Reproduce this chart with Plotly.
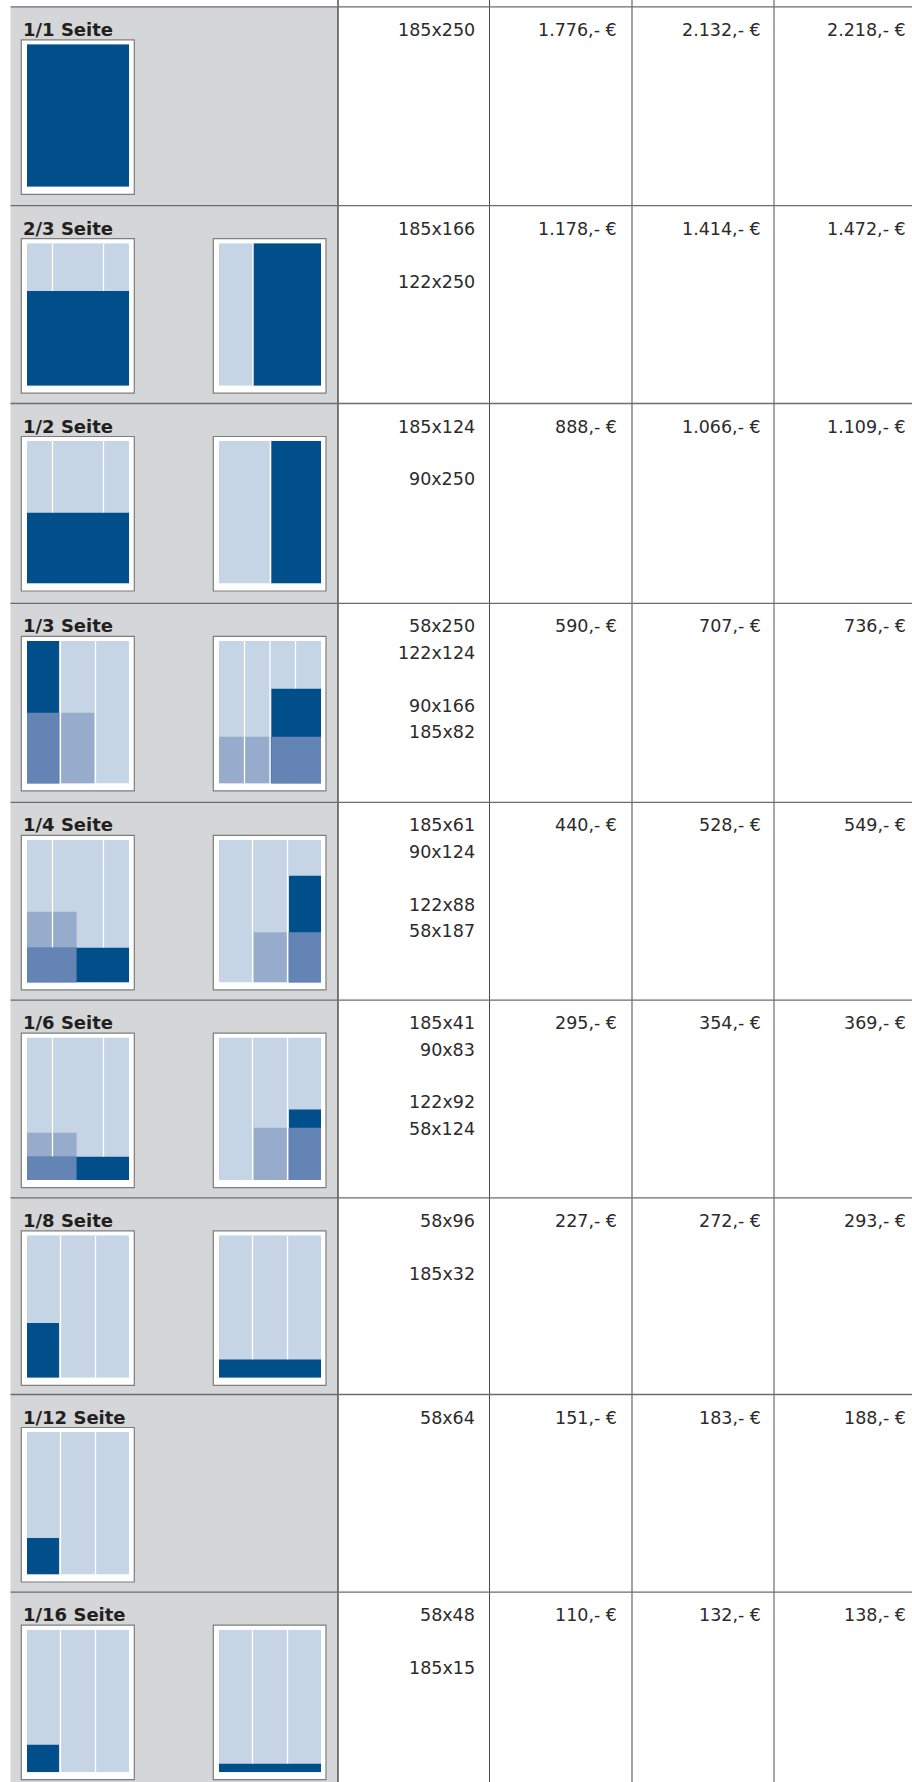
import plotly.graph_objects as go

W, H = 912, 1782

# ---------------- data ----------------
titles = ["1/1 Seite", "2/3 Seite", "1/2 Seite", "1/3 Seite", "1/4 Seite",
          "1/6 Seite", "1/8 Seite", "1/12 Seite", "1/16 Seite"]

sizes = [
    ["185x250"],
    ["185x166", "", "122x250"],
    ["185x124", "", "90x250"],
    ["58x250", "122x124", "", "90x166", "185x82"],
    ["185x61", "90x124", "", "122x88", "58x187"],
    ["185x41", "90x83", "", "122x92", "58x124"],
    ["58x96", "", "185x32"],
    ["58x64"],
    ["58x48", "", "185x15"],
]

price_1 = ["1.776", "1.178", "888", "590", "440", "295", "227", "151", "110"]
price_2 = ["2.132", "1.414", "1.066", "707", "528", "354", "272", "183", "132"]
price_3 = ["2.218", "1.472", "1.109", "736", "549", "369", "293", "188", "138"]

# page type area in mm and column grids (divider positions in mm)
PAGE_W, PAGE_H = 185, 250
grids = {
    "none": [],
    "3col": [60.75, 124.25],
    "4col": [46.25, 92.5, 138.75],
    "4out": [46.25, 138.75],
    "third": [61.7],
    "half": [93.0],
}

# thumbnails per row: (grid, [(format, anchor), ...]) ; first format = main (dark),
# second format = alternative (light), overlap shown in mid tone
thumbs = [
    [("none", [("185x250", "l")])],
    [("4out", [("185x166", "l")]), ("third", [("122x250", "r")])],
    [("4out", [("185x124", "l")]), ("half", [("90x250", "r")])],
    [("3col", [("58x250", "l"), ("122x124", "l")]), ("4col", [("90x166", "r"), ("185x82", "l")])],
    [("4out", [("185x61", "l"), ("90x124", "l")]), ("3col", [("58x187", "r"), ("122x88", "r")])],
    [("4out", [("185x41", "l"), ("90x83", "l")]), ("3col", [("58x124", "r"), ("122x92", "r")])],
    [("3col", [("58x96", "l")]), ("3col", [("185x32", "l")])],
    [("3col", [("58x64", "l")])],
    [("3col", [("58x48", "l")]), ("3col", [("185x15", "l")])],
]

# ---------------- layout constants ----------------
ROW_TOP = [6.8, 205.7, 403.5, 603.4, 802.4, 1000.1, 1197.8, 1394.5, 1592.2]
TABLE_L = 10.5
COL_LINES = [(338, "#3a3a3a", 1.3), (489.5, "#4a4a4a", 1.0), (632, "#9a9a9a", 1.8), (774, "#505050", 1.0)]
SIZE_RIGHT = 477.3
PRICE_RIGHT = [619.0, 762.5, 908.0]
FRAME_X = [(21.3, 134.3), (213.3, 326.0)]
INNER_X = [(27.0, 129.0), (219.0, 321.0)]
FRAME_DY = (33.0, 187.5)
INNER_DY = (37.5, 180.0)
LINE_STEP = 26.45

C_GRAY = "#d5d6d8"
C_LIGHT = "#c5d5e5"
C_ALT = "#97abcd"
C_MID = "#6384b4"
C_DARK = "#004f8b"
TXT = "#2b2b2b"

fig = go.Figure()
fig.add_trace(go.Scatter(x=[], y=[], xaxis="x", yaxis="y", showlegend=False))

shapes = []
annotations = []

# gray first column
shapes.append(dict(type="rect", xref="x", yref="y", x0=TABLE_L, x1=338, y0=ROW_TOP[0], y1=H,
                   fillcolor=C_GRAY, line=dict(width=0)))
# vertical column rules
for x, c, w in COL_LINES:
    shapes.append(dict(type="line", xref="x", yref="y", x0=x, x1=x, y0=0, y1=H,
                       line=dict(color=c, width=w)))
# horizontal row rules
for r in ROW_TOP:
    shapes.append(dict(type="line", xref="x", yref="y", x0=TABLE_L, x1=W, y0=r, y1=r,
                       line=dict(color="#6c6c6c", width=1.3)))


def parse(s):
    a, b = s.split("x")
    return float(a), float(b)


def fmt_rect(s, anchor):
    w, h = parse(s)
    x0 = 0 if anchor == "l" else PAGE_W - w
    return (x0, x0 + w, 0, h)


n = 2
for i, row in enumerate(thumbs):
    r = ROW_TOP[i]
    for j, (grid, fmts) in enumerate(row):
        fx0, fx1 = FRAME_X[j]
        ix0, ix1 = INNER_X[j]
        # frame
        shapes.append(dict(type="rect", xref="x", yref="y", x0=fx0, x1=fx1,
                           y0=r + FRAME_DY[0], y1=r + FRAME_DY[1],
                           fillcolor="white", line=dict(color="#7d7d7d", width=1.2)))
        xa, ya = f"x{n}", f"y{n}"
        fig.add_trace(go.Scatter(x=[], y=[], xaxis=xa, yaxis=ya, showlegend=False))
        fig.layout[f"xaxis{n}"] = dict(domain=[ix0 / W, ix1 / W], range=[0, PAGE_W], visible=False,
                                       anchor=ya, fixedrange=True)
        fig.layout[f"yaxis{n}"] = dict(domain=[1 - (r + INNER_DY[1]) / H, 1 - (r + INNER_DY[0]) / H],
                                       range=[0, PAGE_H], visible=False, anchor=xa, fixedrange=True)
        # page background
        shapes.append(dict(type="rect", xref=xa, yref=ya, x0=0, x1=PAGE_W, y0=0, y1=PAGE_H,
                           fillcolor=C_LIGHT, line=dict(width=0)))
        rects = [fmt_rect(s, a) for s, a in fmts]
        # alternative format (light)
        for rc in rects[1:]:
            shapes.append(dict(type="rect", xref=xa, yref=ya, x0=rc[0], x1=rc[1], y0=rc[2], y1=rc[3],
                               fillcolor=C_ALT, line=dict(width=0)))
        # column dividers
        for d in grids[grid]:
            shapes.append(dict(type="line", xref=xa, yref=ya, x0=d, x1=d, y0=0, y1=PAGE_H,
                               line=dict(color="white", width=1.3)))
        # main format (dark)
        m = rects[0]
        shapes.append(dict(type="rect", xref=xa, yref=ya, x0=m[0], x1=m[1], y0=m[2], y1=m[3],
                           fillcolor=C_DARK, line=dict(width=0)))
        # overlap (mid tone)
        for rc in rects[1:]:
            ox0, ox1 = max(m[0], rc[0]), min(m[1], rc[1])
            oy0, oy1 = max(m[2], rc[2]), min(m[3], rc[3])
            if ox1 > ox0 and oy1 > oy0:
                shapes.append(dict(type="rect", xref=xa, yref=ya, x0=ox0, x1=ox1, y0=oy0, y1=oy1,
                                   fillcolor=C_MID, line=dict(width=0)))
        n += 1

# texts
for i, r in enumerate(ROW_TOP):
    annotations.append(dict(xref="x", yref="y", x=21, y=r + 22.5, xanchor="left", yanchor="middle",
                            text=f"<b>{titles[i]}</b>", showarrow=False,
                            font=dict(family="DejaVu Sans", size=18, color="#231f20")))
    for k, s in enumerate(sizes[i]):
        if s:
            annotations.append(dict(xref="x", yref="y", x=SIZE_RIGHT, y=r + 23 + k * LINE_STEP,
                                    xanchor="right", yanchor="middle", text=s, showarrow=False,
                                    font=dict(family="DejaVu Sans", size=17.5, color=TXT)))
    for p, xr in zip((price_1[i], price_2[i], price_3[i]), PRICE_RIGHT):
        annotations.append(dict(xref="x", yref="y", x=xr, y=r + 23, xanchor="right", yanchor="middle",
                                text=f"{p},- €", showarrow=False,
                                font=dict(family="DejaVu Sans", size=17.5, color=TXT)))

fig.update_layout(
    width=W, height=H, margin=dict(l=0, r=0, t=0, b=0, pad=0),
    paper_bgcolor="white", plot_bgcolor="rgba(0,0,0,0)",
    xaxis=dict(domain=[0, 1], range=[0, W], visible=False, fixedrange=True),
    yaxis=dict(domain=[0, 1], range=[H, 0], visible=False, fixedrange=True),
    shapes=shapes, annotations=annotations, showlegend=False,
)

fig.write_html("out.html", config={"displayModeBar": False},
               post_script="document.body.style.margin='0';document.body.style.overflow='hidden';")
